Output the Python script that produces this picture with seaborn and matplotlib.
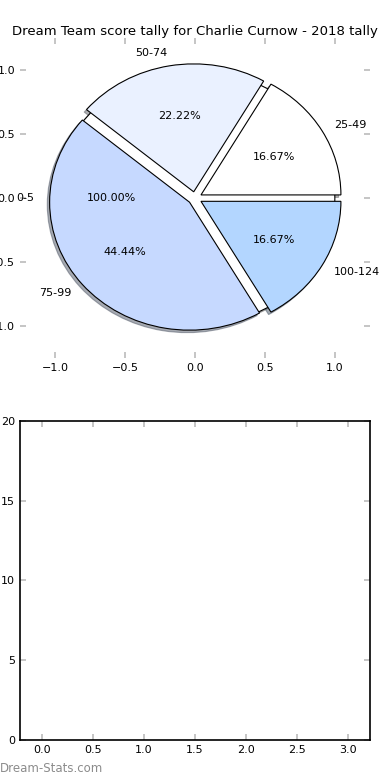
import matplotlib
matplotlib.use("Agg")
import matplotlib.pyplot as plt
import seaborn as sns
import numpy as np

# Score bands and share of games for the pie
base_label = ['0-5']
base_value = [1]
bands = ['25-49', '50-74', '75-99', '100-124']
band_counts = [3, 4, 8, 3]
band_colors = ['#ffffff', '#eaf1ff', '#c6d9ff', '#b3d6ff']

pie_ticks = [-1.0, -0.5, 0.0, 0.5, 1.0]
bar_xticks = [0.0, 0.5, 1.0, 1.5, 2.0, 2.5, 3.0]
bar_yticks = [0, 5, 10, 15, 20]

sns.set_style("white")
plt.rcParams['font.family'] = ['DejaVu Sans']
plt.rcParams['text.color'] = 'black'
plt.rcParams['axes.labelcolor'] = 'black'
plt.rcParams['xtick.direction'] = 'in'
plt.rcParams['ytick.direction'] = 'in'

fig = plt.figure(figsize=(3.9, 7.8), dpi=100)

# Top: pie chart (drawn over a full 0-5 disc, like the original)
ax1 = fig.add_axes([0.0513, 0.541, 0.897, 0.410])
txt = {'fontsize': 8, 'color': 'black'}
shade = {'ox': -0.012, 'oy': -0.014, 'shade': 0.6}
ax1.pie(base_value, labels=base_label, colors=['white'], autopct='%1.2f%%',
        shadow=shade, textprops=txt, labeldistance=1.15,
        wedgeprops={'edgecolor': 'black', 'linewidth': 0.8})
ax1.pie(band_counts, labels=bands, colors=band_colors, autopct='%1.2f%%',
        explode=[0.05] * len(bands), shadow=shade, textprops=txt,
        wedgeprops={'edgecolor': 'black', 'linewidth': 0.8})
ax1.set_aspect('auto')
ax1.set_xlim(-1.25, 1.25)
ax1.set_ylim(-1.25, 1.25)
ax1.set_frame_on(False)
ax1.set_xticks(pie_ticks)
ax1.set_yticks(pie_ticks)
ax1.tick_params(axis='both', colors='#bbbbbb', labelcolor='black',
                labelsize=8, length=4, width=1.2,
                top=True, right=True, bottom=True, left=True)
ax1.set_title('Dream Team score tally for Charlie Curnow - 2018 tally',
              fontsize=9.5, pad=2.5, color='black')

# Bottom: empty tally axes
ax2 = fig.add_axes([0.0513, 0.0513, 0.897, 0.409])
ax2.set_xlim(-0.215, 3.215)
ax2.set_ylim(0, 20)
ax2.set_xticks(bar_xticks)
ax2.set_yticks(bar_yticks)
for sp in ax2.spines.values():
    sp.set_visible(True)
    sp.set_color('black')
    sp.set_linewidth(1.2)
ax2.tick_params(axis='both', colors='#bbbbbb', labelcolor='black',
                labelsize=8, length=4, width=1.2,
                top=True, right=True, bottom=True, left=True)

fig.text(0.0, 0.006, 'Dream-Stats.com', fontsize=8.5, color='#8c8c8c',
         ha='left', va='bottom')

fig.savefig('out.png', dpi=100)
